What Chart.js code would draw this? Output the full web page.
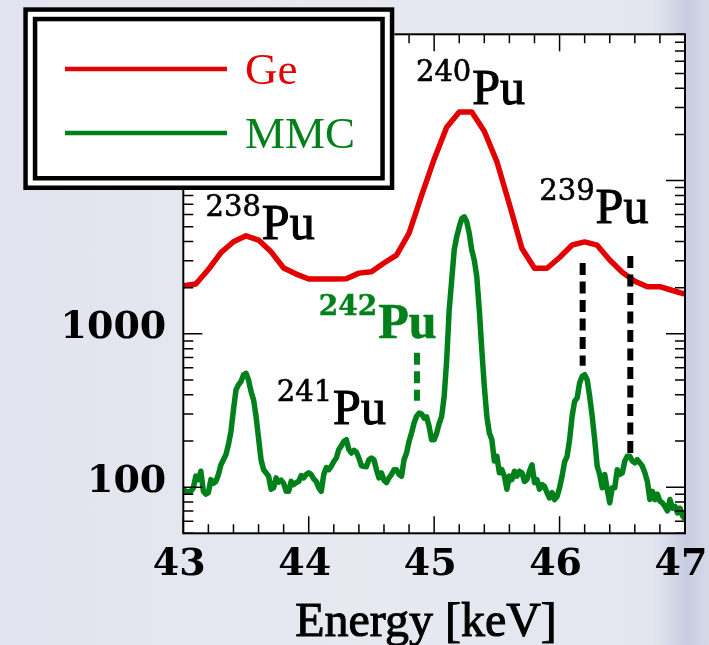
<!DOCTYPE html>
<html>
<head>
<meta charset="utf-8">
<script src="https://cdn.jsdelivr.net/npm/chart.js@4.4.1/dist/chart.umd.min.js"></script>
<style>
  html, body { margin: 0; padding: 0; }
  body {
    width: 709px; height: 645px; overflow: hidden;
    background: linear-gradient(90deg, #e1e4ee 0%, #e7e9f1 50%, #e3e6ef 92%, #c8cde0 97%, #d5d9e7 100%);
  }
  canvas { display: block; }
</style>
</head>
<body>
<canvas id="spectrum" width="709" height="645"></canvas>
<script>
// Ge detector spectrum, 0.1 keV bins from 43 keV
const geStart = 43.0;
const geStep = 0.1;
const geCounts = [2060, 2115, 2630, 3390, 3990, 4360, 4090, 3430, 2690, 2455,
  2280, 2280, 2280, 2290, 2490, 2540, 2900, 3265, 4540, 8000,
  13800, 22300, 28000, 28000, 21000, 13300, 7000, 3600, 2680, 2680,
  3150, 3800, 3980, 3790, 3030, 2520, 2205, 2030, 2030, 1918, 1820];

// MMC spectrum, 0.02 keV bins from 43 keV
const mmcStart = 43.0;
const mmcStep = 0.02;
const mmcCounts = [97, 94, 93, 94, 99, 118, 112, 127, 94, 90,
  92, 112, 106, 109, 121, 140, 151, 163, 190, 231,
  320, 431, 465, 489, 540, 553, 501, 421, 372, 290,
  209, 151, 130, 124, 118, 97, 99, 115, 108, 111,
  106, 94, 94, 109, 104, 107, 109, 119, 115, 121,
  124, 121, 113, 109, 99, 94, 121, 134, 130, 137,
  147, 155, 176, 186, 199, 204, 176, 167, 174, 169,
  155, 138, 137, 136, 151, 155, 151, 130, 115, 124,
  111, 107, 115, 121, 130, 130, 121, 118, 151, 167,
  199, 226, 262, 290, 304, 301, 282, 287, 249, 204,
  204, 225, 260, 290, 391, 677, 1433, 2246, 3520, 4296,
  4990, 5657, 5800, 5380, 4520, 3520, 3030, 2359, 1433, 787,
  454, 290, 226, 204, 148, 159, 124, 130, 118, 97,
  118, 112, 127, 118, 127, 124, 109, 112, 127, 140,
  107, 112, 97, 104, 101, 92, 85, 92, 83, 87,
  99, 118, 146, 159, 204, 290, 363, 382, 478, 528,
  541, 502, 391, 290, 204, 137, 121, 99, 121, 97,
  79, 99, 99, 130, 121, 124, 148, 159, 159, 148,
  144, 151, 144, 137, 124, 109, 83, 94, 83, 90,
  81, 79, 75, 70, 83, 73, 75, 68, 73, 65, 62];

// peak markers (242Pu, 239Pu, 239Pu)
const markerEnergies = [44.863, 46.184, 46.564];
const markerTop = [752, 2898, 3216];
const markerBottom = [366, 619, 163];

const xTickLabels = [43, 44, 45, 46, 47];
const yTickLabels = [100, 1000];

// isotope labels: mass number, energy of left edge, counts at baseline
const isotopeMass = ['238', '240', '239', '241', '242'];
const isotopeE = [43.177, 44.855, 45.838, 43.745, 44.080];
const isotopeC = [4131, 31360, 5275, 260, 940];

const RED = '#e30000';
const GREEN = '#00801a';

const geData = geCounts.map((c, i) => ({ x: geStart + i * geStep, y: c }));
const mmcData = mmcCounts.map((c, i) => ({ x: mmcStart + i * mmcStep, y: c }));
const markerData = markerEnergies.map((e, i) => [{ x: e, y: markerTop[i] }, { x: e, y: markerBottom[i] }]);

function noPad(s) {
  s.paddingLeft = 0; s.paddingRight = 0; s.paddingTop = 0; s.paddingBottom = 0;
}

// fill + light stroke so the serif text is a bit heavier
function heavyText(c, txt, x, y, w) {
  c.fillText(txt, x, y);
  c.lineWidth = w;
  c.strokeStyle = c.fillStyle;
  c.strokeText(txt, x, y);
}

const framePlugin = {
  id: 'frameTicks',
  beforeDraw(chart) {
    const a = chart.chartArea;
    const c = chart.ctx;
    c.save();
    c.fillStyle = '#ffffff';
    c.fillRect(a.left, a.top, a.right - a.left, a.bottom - a.top);
    c.restore();
  },
  afterDatasetsDraw(chart) {
    const { ctx: c, chartArea: a, scales: { x, y } } = chart;
    c.save();
    c.strokeStyle = '#000';
    c.lineWidth = 1.5;
    c.beginPath();
    for (let i = 0; i <= 20; i++) {
      const px = x.getPixelForValue(43 + i * 0.2);
      const len = i % 5 === 0 ? 17 : 9;
      c.moveTo(px, a.bottom); c.lineTo(px, a.bottom - len);
      c.moveTo(px, a.top); c.lineTo(px, a.top + len);
    }
    for (let d = 10; d <= 10000; d *= 10) {
      for (let m = 1; m <= 9; m++) {
        const v = m * d;
        if (v < 50 || v > 90000) continue;
        const py = y.getPixelForValue(v);
        const len = m === 1 ? 19 : 10;
        c.moveTo(a.left, py); c.lineTo(a.left + len, py);
        c.moveTo(a.right, py); c.lineTo(a.right - len, py);
      }
    }
    c.stroke();
    c.lineWidth = 2;
    c.strokeRect(a.left, a.top, a.right - a.left, a.bottom - a.top);
    c.restore();
  },
  afterDraw(chart) {
    const { ctx: c, scales: { x, y } } = chart;
    c.save();
    c.textBaseline = 'alphabetic';
    c.textAlign = 'left';
    // isotope labels
    isotopeMass.forEach((m, i) => {
      const px = x.getPixelForValue(isotopeE[i]);
      const py = y.getPixelForValue(isotopeC[i]);
      const bold = m === '242';
      c.fillStyle = bold ? GREEN : '#000';
      c.font = (bold ? 'bold 28px' : '29px') + ' "DejaVu Serif"';
      heavyText(c, m, px, py - 23, bold ? 0.4 : 0.6);
      const w = c.measureText(m).width;
      c.font = (bold ? 'bold 50px' : '50px') + ' "Liberation Serif"';
      heavyText(c, 'Pu', px + w + 1, py, bold ? 0.6 : 1.1);
    });

    // axis title
    c.fillStyle = '#000';
    c.font = '48px "Liberation Serif"';
    c.textAlign = 'center';
    heavyText(c, 'Energy [keV]', 426, 636, 1);

    // legend box with double frame
    const bx = 23.3, by = 7.3, bw = 371, bh = 182.7;
    c.fillStyle = '#fff';
    c.fillRect(bx, by, bw, bh);
    c.strokeStyle = '#000';
    c.lineWidth = 4.5;
    c.strokeRect(bx + 2.25, by + 2.25, bw - 4.5, bh - 4.5);
    c.strokeRect(bx + 11.75, by + 11.75, bw - 23.5, bh - 23.5);
    const rows = [69, 133];
    chart.data.datasets.slice(0, 2).forEach((ds, i) => {
      c.strokeStyle = ds.borderColor;
      c.lineWidth = 4.5;
      c.beginPath();
      c.moveTo(65, rows[i]); c.lineTo(227, rows[i]);
      c.stroke();
      c.fillStyle = ds.borderColor;
      c.font = '45px "Liberation Serif"';
      c.textAlign = 'left';
      c.fillText(ds.label, 245, rows[i] + 15);
    });
    c.restore();
  }
};

const tickFont = { family: 'DejaVu Serif', size: 38, weight: 'bold', lineHeight: 1 };

const ctx = document.getElementById('spectrum').getContext('2d');
new Chart(ctx, {
  type: 'line',
  data: {
    datasets: [
      { label: 'Ge', data: geData, borderColor: RED, borderWidth: 5.5, pointRadius: 0, tension: 0,
        borderJoinStyle: 'round', order: 3 },
      { label: 'MMC', data: mmcData, borderColor: GREEN, borderWidth: 5.5, pointRadius: 0, tension: 0,
        borderJoinStyle: 'round', order: 2 },
      { label: '242Pu', data: markerData[0], borderColor: GREEN, borderWidth: 6, borderDash: [12, 6.5],
        pointRadius: 0, order: 1 },
      { label: '239Pu a', data: markerData[1], borderColor: '#000', borderWidth: 6, borderDash: [12, 6.5],
        pointRadius: 0, order: 1 },
      { label: '239Pu b', data: markerData[2], borderColor: '#000', borderWidth: 6, borderDash: [12, 6.5],
        pointRadius: 0, order: 1 }
    ]
  },
  options: {
    responsive: false,
    animation: false,
    devicePixelRatio: 1,
    layout: { padding: { top: 34.3, right: 24, left: 0, bottom: 0 } },
    plugins: { legend: { display: false }, tooltip: { enabled: false } },
    scales: {
      x: {
        type: 'linear', min: 43, max: 47,
        grid: { display: false, drawTicks: false },
        border: { display: false },
        afterBuildTicks: s => { s.ticks = xTickLabels.map(v => ({ value: v })); },
        afterFit: s => { s.height = 645 - 533.3; noPad(s); },
        ticks: { font: tickFont, color: '#000',
          padding: 13, labelOffset: -4, maxRotation: 0, autoSkip: false,
          callback: v => String(v) }
      },
      y: {
        type: 'logarithmic', min: 50, max: 90000,
        grid: { display: false, drawTicks: false },
        border: { display: false },
        afterBuildTicks: s => { s.ticks = yTickLabels.map(v => ({ value: v })); },
        afterFit: s => { s.width = 183.3; noPad(s); },
        ticks: { font: tickFont, color: '#000',
          padding: 17, labelOffset: -5.5, autoSkip: false,
          callback: v => String(v) }
      }
    }
  },
  plugins: [framePlugin]
});
</script>
</body>
</html>
